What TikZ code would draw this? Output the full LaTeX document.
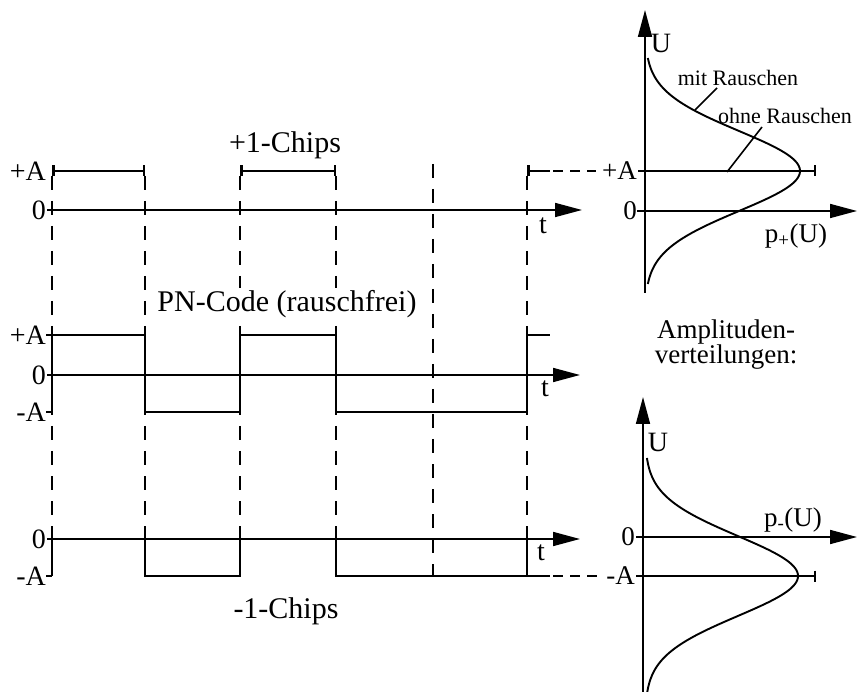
\documentclass[tikz,border=0pt]{standalone}
\usepackage{fontspec}
\setmainfont{Liberation Serif}
\usetikzlibrary{arrows.meta}
\begin{document}
\begin{tikzpicture}[x=1pt,y=-1pt,
  wave/.style={line width=2.5pt, line join=miter},
  axisline/.style={line width=1.7pt},
  gridline/.style={line width=1.9pt, dash pattern=on 14pt off 11pt},
  ext/.style={line width=1.9pt, dash pattern=on 10pt off 7pt},
  arr/.style={-{Triangle[length=27pt,width=14pt]}},
  big/.style={font=\fontsize{30}{34}\selectfont, inner sep=0pt},
  lab/.style={font=\fontsize{28}{30}\selectfont, inner sep=0pt},
  rlab/.style={font=\fontsize{27}{29}\selectfont, inner sep=0pt},
  small/.style={font=\fontsize{22}{25}\selectfont, inner sep=0pt},
  curve/.style={line width=1.9pt},
  tickline/.style={line width=2pt},
  leader/.style={line width=1.6pt}]
\fill[white] (0,0) rectangle (857,692);
\useasboundingbox (0,0) rectangle (857,692);

% vertical dashed chip boundaries
\foreach \xx in {52,145,240,336,527} \draw[gridline] (\xx,176) -- (\xx,576);
\draw[gridline] (433,164) -- (433,576);

% ---- top row: +1 chips
\draw[axisline,arr] (47,210) -- (582,210);
\draw[wave,{Bar[width=11pt]}-{Bar[width=11pt]}] (52,171) -- (145,171);
\draw[wave,{Bar[width=11pt]}-{Bar[width=11pt]}] (240,171) -- (336,171);
\draw[wave,{Bar[width=11pt]}-] (527,171) -- (550,171);
\draw[ext] (553,171) -- (596,171);

% ---- middle row: PN code
\draw[axisline,arr] (47,375) -- (580,375);
\draw[wave] (52,412) -- (52,335) -- (145,335) -- (145,412) -- (240,412) -- (240,335)
  -- (336,335) -- (336,412) -- (527,412) -- (527,335) -- (550,335);
\draw[tickline] (46,335) -- (52,335) (46,412) -- (52,412);

% ---- bottom row: -1 chips
\draw[axisline,arr] (47,539) -- (580,539);
\draw[wave] (52,539) -- (52,576);
\draw[wave] (145,539) -- (145,576) -- (240,576) -- (240,539);
\draw[wave] (336,539) -- (336,576) -- (550,576);
\draw[wave] (527,576) -- (527,539);
\draw[tickline] (46,576) -- (52,576);
\draw[ext] (553,576) -- (598,576);

% left labels
\node[lab,anchor=east] (lpA1) at (46,171) {+A};
\node[lab,anchor=east] (l01) at (46,210) {0};
\node[lab,anchor=east] (lpA2) at (46,335) {+A};
\node[lab,anchor=east] (l02) at (46,375) {0};
\node[lab,anchor=east] (lmA2) at (46,412) {-A};
\node[lab,anchor=east] (l03) at (46,539) {0};
\node[lab,anchor=east] (lmA3) at (46,576) {-A};
\node[lab] (t1) at (543,226) {t};
\node[lab] (t2) at (545,389) {t};
\node[lab] (t3) at (541,553) {t};

\node[big,anchor=base] (chp) at (285,153) {+1-Chips};
\node[big,anchor=base,fill=white,inner ysep=3pt,inner xsep=1pt] (pn) at (287,312) {PN-Code (rauschfrei)};
\node[big,anchor=base] (chm) at (286,618) {-1-Chips};

% ---- right top distribution
\draw[axisline,arr] (645,293) -- (645,10);
\draw[axisline,arr] (637,211) -- (857,211);
\draw[wave,-{Bar[width=11pt]}] (638,171) -- (816,171);
\draw[curve] plot[domain=58:284, samples=120, smooth, variable=\t]
  ({645+155*exp(-0.5*((\t-171)/40)*((\t-171)/40))}, \t);
\node[rlab,anchor=east] (rpA) at (637,171) {+A};
\node[rlab,anchor=east] (r0a) at (637,211) {0};
\node[lab] (U1) at (661,43) {U};
\node[rlab,anchor=base] (pp) at (796,243) {p\textsubscript{+}(U)};
\node[small] (mit) at (738,78) {mit Rauschen};
\node[small] (ohne) at (785,116) {ohne Rauschen};
\draw[leader] (695,110) -- (717,88);
\draw[leader] (727,172) -- (762,127);

% title of right side
\node[font=\fontsize{27}{25}\selectfont, align=center, inner sep=0pt] (amp) at (726,345)
  {Amplituden-\\verteilungen:};

% ---- right bottom distribution
\draw[axisline,arr] (643,692) -- (643,397);
\draw[axisline,arr] (636,537) -- (857,537);
\draw[wave,-{Bar[width=11pt]}] (636,576) -- (816,576);
\draw[curve] plot[domain=458:692, samples=120, smooth, variable=\t]
  ({645+153*exp(-0.5*((\t-576)/40)*((\t-576)/40))}, \t);
\node[rlab,anchor=east] (r0b) at (635,537) {0};
\node[rlab,anchor=east] (rmA) at (635,576) {-A};
\node[lab] (U2) at (658,442) {U};
\node[rlab,anchor=base] (pm) at (793,526) {p\textsubscript{-}(U)};
\end{tikzpicture}
\end{document}
